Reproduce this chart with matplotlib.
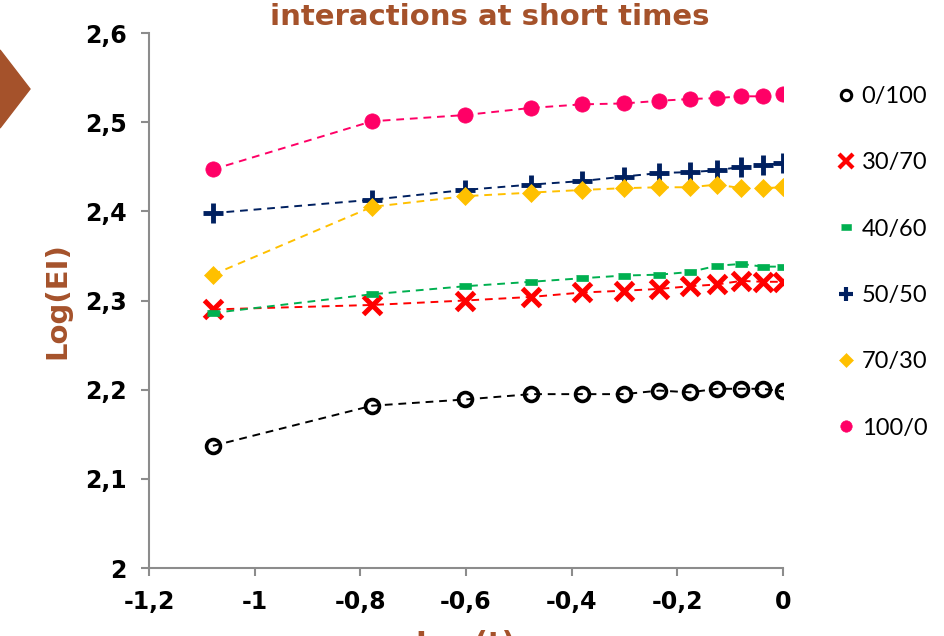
import matplotlib
matplotlib.use('Agg')
from matplotlib import pyplot as plt
from matplotlib.lines import Line2D
from matplotlib.patches import Polygon
from matplotlib.ticker import FuncFormatter

# data
log_t = [-1.079, -0.778, -0.602, -0.477, -0.380, -0.301, -0.234, -0.176,
         -0.125, -0.079, -0.038, 0.0]
labels = ['0/100', '30/70', '40/60', '50/50', '70/30', '100/0']
ei_0_100 = [2.137, 2.182, 2.189, 2.195, 2.195, 2.195, 2.199, 2.197, 2.201,
            2.201, 2.201, 2.198]
ei_30_70 = [2.290, 2.295, 2.300, 2.304, 2.309, 2.311, 2.313, 2.316, 2.318,
            2.322, 2.321, 2.321]
ei_40_60 = [2.286, 2.307, 2.316, 2.321, 2.325, 2.328, 2.329, 2.332, 2.339,
            2.341, 2.338, 2.338]
ei_50_50 = [2.398, 2.413, 2.424, 2.430, 2.434, 2.439, 2.443, 2.444, 2.446,
            2.450, 2.452, 2.454]
ei_70_30 = [2.329, 2.405, 2.417, 2.421, 2.424, 2.426, 2.427, 2.427, 2.430,
            2.426, 2.426, 2.427]
ei_100_0 = [2.447, 2.501, 2.508, 2.516, 2.520, 2.521, 2.524, 2.526, 2.527,
            2.529, 2.529, 2.532]
series = [ei_0_100, ei_30_70, ei_40_60, ei_50_50, ei_70_30, ei_100_0]

brown = '#A5522B'
axis_grey = '#8C8C8C'
rect = [(-1, -0.55), (1, -0.55), (1, 0.55), (-1, 0.55)]
# colour, marker, size, edge width, face
styles = [
    ('black', 'o', 10, 2.6, 'none'),
    ('#FF0000', 'x', 13, 3.6, '#FF0000'),
    ('#00B050', rect, 9, 0.5, '#00B050'),
    ('#002060', '+', 14, 3.5, '#002060'),
    ('#FFC000', 'D', 9, 0.5, '#FFC000'),
    ('#FF0066', 'o', 11, 0.5, '#FF0066'),
]

fig = plt.figure(figsize=(9.44, 6.36), dpi=100)
ax = fig.add_axes([0.1578, 0.1069, 0.6717, 0.8412])

handles = []
for vals, lab, (col, mk, ms, mew, fc) in zip(series, labels, styles):
    ax.plot(log_t, vals, linestyle=(0, (4, 3)), color=col, linewidth=1.4)
    ax.plot(log_t, vals, linestyle='none', marker=mk, markersize=ms,
            markeredgewidth=mew, markeredgecolor=col, markerfacecolor=fc)
    handles.append(Line2D([], [], linestyle='none', marker=mk,
                          markersize=ms * 0.75, markeredgewidth=mew * 0.85,
                          markeredgecolor=col, markerfacecolor=fc, label=lab))

ax.set_xlim(-1.2, 0)
ax.set_ylim(2.0, 2.6)
ax.set_xticks([-1.2, -1.0, -0.8, -0.6, -0.4, -0.2, 0])
ax.set_yticks([2.0, 2.1, 2.2, 2.3, 2.4, 2.5, 2.6])
fmt = FuncFormatter(lambda v, p: ('%g' % round(v, 1)).replace('.', ','))
ax.xaxis.set_major_formatter(fmt)
ax.yaxis.set_major_formatter(fmt)

for s in ['top', 'right']:
    ax.spines[s].set_visible(False)
for s in ['left', 'bottom']:
    ax.spines[s].set_color(axis_grey)
    ax.spines[s].set_linewidth(1.5)
ax.tick_params(direction='out', length=6, width=1.5, color=axis_grey,
               labelsize=17, pad=10)
for t in ax.get_xticklabels() + ax.get_yticklabels():
    t.set_fontweight('bold')

leg = fig.legend(handles=handles, loc='upper left',
                 bbox_to_anchor=(0.889, 0.865), bbox_transform=fig.transFigure,
                 frameon=False, prop={'family': 'Lato', 'size': 17},
                 labelspacing=1.92, handlelength=0.6, handletextpad=0.35,
                 borderaxespad=0, borderpad=0)

# title + axis labels (cut off at the edges like the slide crop)
fig.text(0.519, 1 - 25 / 636, 'interactions at short times', ha='center',
         va='baseline', fontsize=21, fontweight='bold', color=brown)
fig.text(0.061, 0.528, 'Log(EI)', rotation=90, ha='center', va='center',
         fontsize=21, fontweight='bold', color=brown)
fig.text(0.493, 1 - 630 / 636, 'Log(t)', ha='center', va='top',
         fontsize=21, fontweight='bold', color=brown)

# brown arrow on the left
fig.patches.append(Polygon([(0, 1 - 50 / 636), (30 / 944, 1 - 89 / 636),
                            (0, 1 - 128 / 636)], closed=True,
                           transform=fig.transFigure, color=brown))

plt.savefig('out.png', dpi=100)
